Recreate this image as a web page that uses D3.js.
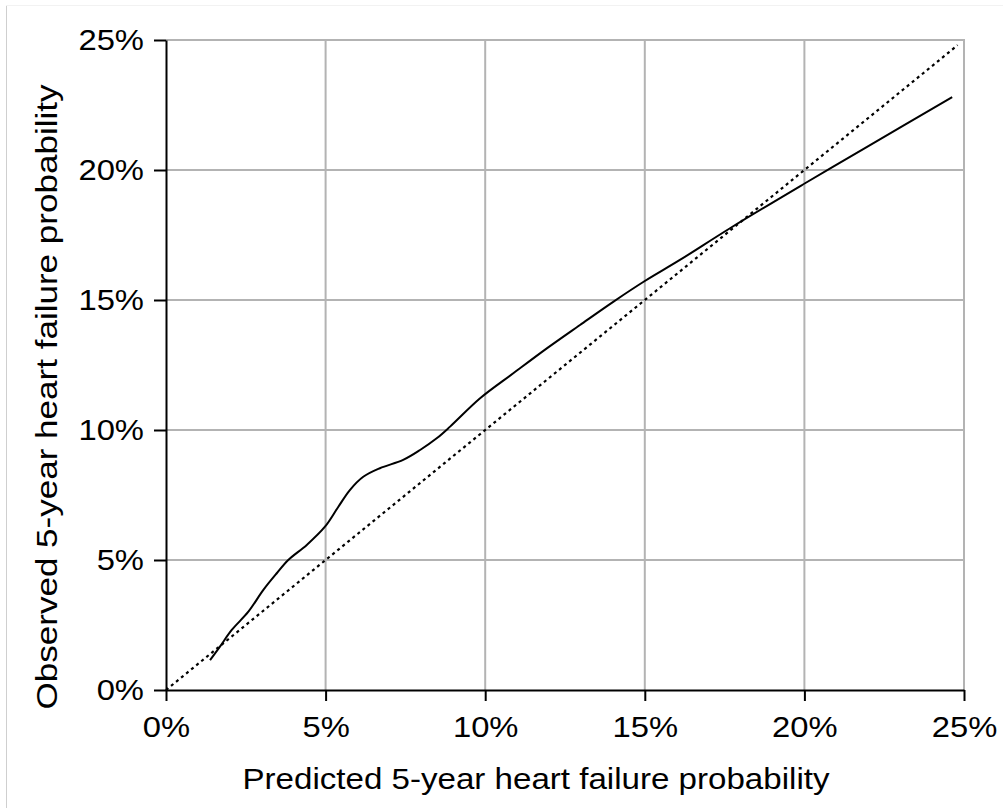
<!DOCTYPE html>
<html>
<head>
<meta charset="utf-8">
<script src="https://cdn.jsdelivr.net/npm/d3@7"></script>
<style>
  body { margin: 0; background: #fff; }
  svg { display: block; font-family: 'Liberation Sans', Arial, sans-serif; }
  .tick text { font-size: 29px; fill: #000; }
  .axis path, .axis line { stroke: #000; stroke-width: 2px; }
  .grid line { stroke: #b3b3b3; stroke-width: 2px; }
</style>
</head>
<body>
<script>
// Calibration curve (percent)
var predicted = [1.38, 1.69, 2.06, 2.58, 3.05, 3.47, 3.83, 4.41, 4.98, 5.40, 5.76, 6.18, 6.70, 7.43, 7.96, 8.48, 8.90, 9.84, 10.88, 11.93, 12.97, 14.01, 15.0, 16.1, 17.67, 20.02, 21.95, 24.63];
var observed  = [1.15, 1.67, 2.31, 3.01, 3.85, 4.49, 5.0, 5.58, 6.28, 7.05, 7.69, 8.2, 8.53, 8.85, 9.23, 9.68, 10.13, 11.22, 12.18, 13.14, 14.04, 14.93, 15.73, 16.54, 17.76, 19.49, 20.88, 22.8];

// Perfect calibration reference line
var refX = [0, 24.8];
var refY = [0, 24.8];

var ticks = [0, 5, 10, 15, 20, 25];
var xTitle = 'Predicted 5-year heart failure probability';
var yTitle = 'Observed 5-year heart failure probability';

var W = 1003, H = 808;
var m = { left: 166, right: 964, top: 40, bottom: 690 };
var stretch = 1.13; // the reference glyphs are a little wider than Liberation Sans

var svg = d3.select('body').append('svg').attr('width', W).attr('height', H);

// faint page border
svg.append('line').attr('x1', 6.5).attr('x2', 6.5).attr('y1', 6).attr('y2', H)
  .attr('stroke', '#cfcfcf').attr('stroke-width', 1);
svg.append('line').attr('x1', 6).attr('x2', W).attr('y1', 5.5).attr('y2', 5.5)
  .attr('stroke', '#f2f2f2').attr('stroke-width', 1);

var x = d3.scaleLinear().domain([0, 25]).range([m.left, m.right]);
var y = d3.scaleLinear().domain([0, 25]).range([m.bottom, m.top]);

// grid
var grid = svg.append('g').attr('class', 'grid');
grid.selectAll('.gx').data(ticks.slice(1)).enter().append('line')
  .attr('x1', (d) => x(d)).attr('x2', (d) => x(d))
  .attr('y1', m.top - 1).attr('y2', m.bottom);
grid.selectAll('.gy').data(ticks.slice(1)).enter().append('line')
  .attr('x1', m.left).attr('x2', m.right + 1)
  .attr('y1', (d) => y(d)).attr('y2', (d) => y(d));

// axes
var xAxis = svg.append('g').attr('class', 'axis')
  .attr('transform', 'translate(0,' + m.bottom + ')')
  .call(d3.axisBottom(x).tickValues(ticks).tickSize(11).tickPadding(15).tickSizeOuter(0)
    .tickFormat((d) => d + '%'));
xAxis.selectAll('.tick text').attr('transform', 'scale(' + stretch + ',1)');

var yAxis = svg.append('g').attr('class', 'axis')
  .attr('transform', 'translate(' + m.left + ',0)')
  .call(d3.axisLeft(y).tickValues(ticks).tickSize(12).tickPadding(10).tickSizeOuter(0)
    .tickFormat((d) => d + '%'));
yAxis.selectAll('.tick text')
  .attr('x', -22 / stretch)
  .attr('transform', 'scale(' + stretch + ',1)');

// reference diagonal
svg.append('path')
  .datum(refX.map((d, i) => [d, refY[i]]))
  .attr('fill', 'none')
  .attr('stroke', '#000')
  .attr('stroke-width', 2.2)
  .attr('stroke-dasharray', '3,3.5')
  .attr('d', d3.line().x((d) => x(d[0])).y((d) => y(d[1])));

// calibration curve
svg.append('path')
  .datum(predicted.map((d, i) => [d, observed[i]]))
  .attr('fill', 'none')
  .attr('stroke', '#000')
  .attr('stroke-width', 2)
  .attr('d', d3.line().curve(d3.curveCatmullRom.alpha(0.5)).x((d) => x(d[0])).y((d) => y(d[1])));

// titles
svg.append('text')
  .attr('x', 536).attr('y', 789)
  .attr('text-anchor', 'middle')
  .attr('font-size', 29)
  .attr('textLength', 587)
  .attr('lengthAdjust', 'spacingAndGlyphs')
  .text(xTitle);

svg.append('text')
  .attr('transform', 'translate(57,397) rotate(-90)')
  .attr('text-anchor', 'middle')
  .attr('font-size', 29)
  .attr('textLength', 625)
  .attr('lengthAdjust', 'spacingAndGlyphs')
  .text(yTitle);
</script>
</body>
</html>
